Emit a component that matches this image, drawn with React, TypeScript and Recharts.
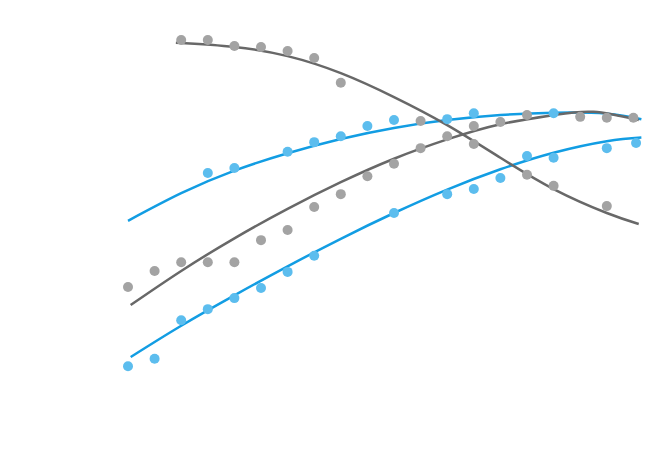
import { ComposedChart, Scatter, Line, XAxis, YAxis } from "recharts";

const GREY_DOT = "#a3a3a3";
const BLUE_DOT = "#5cbdee";
const GREY_LINE = "#686868";
const BLUE_LINE = "#129de3";

// scatter points: x is the slot index, y the value
const fallingX = [2, 3, 4, 5, 6, 7, 8, 11, 13, 15, 16, 18];
const fallingY = [92.6, 92.6, 91.3, 91.1, 90.2, 88.7, 83.3, 75.0, 70.0, 63.3, 60.9, 56.5];

const risingX = [0, 1, 2, 3, 4, 5, 6, 7, 8, 9, 10, 11, 12, 13, 14, 15, 17, 18, 19];
const risingY = [38.9, 42.4, 44.3, 44.3, 44.3, 49.1, 51.3, 56.3, 59.1, 63.0, 65.7, 69.1, 71.7, 73.9, 74.8, 76.3, 75.9, 75.7, 75.7];

const upperX = [3, 4, 6, 7, 8, 9, 10, 12, 13, 16];
const upperY = [63.7, 64.8, 68.3, 70.4, 71.7, 73.9, 75.2, 75.4, 76.7, 76.7];

const lowerX = [0, 1, 2, 3, 4, 5, 6, 7, 10, 12, 13, 14, 15, 16, 18, 19.1];
const lowerY = [21.7, 23.3, 31.7, 34.1, 36.5, 38.7, 42.2, 45.7, 55.0, 59.1, 60.2, 62.6, 67.4, 67.0, 69.1, 70.2];

// trend lines
const fallingTrendX = [1.8, 4, 6, 8, 10, 12, 14, 16, 18, 19.2];
const fallingTrendY = [92.0, 91.1, 89.1, 85.4, 80.2, 74.1, 67.0, 60.2, 55.0, 52.6];

const upperTrendX = [0, 2, 4, 6, 8, 10, 12, 14, 16, 18, 19.3];
const upperTrendY = [53.3, 59.3, 64.2, 68.0, 71.1, 73.5, 75.2, 76.3, 76.8, 76.6, 75.4];

const risingTrendX = [0.1, 2, 4, 6, 8, 10, 12, 14, 16, 17.5, 19.2];
const risingTrendY = [35.0, 42.4, 49.5, 55.9, 61.7, 66.8, 71.0, 74.3, 76.3, 77.0, 75.2];

const lowerTrendX = [0.1, 2, 4, 6, 8, 10, 12, 14, 16, 18, 19.3];
const lowerTrendY = [23.7, 30.5, 37.1, 43.4, 49.4, 55.0, 60.1, 64.5, 68.1, 70.6, 71.4];

const zip = (xs: number[], ys: number[]) => xs.map((x, i) => ({ x, y: ys[i] }));

const dot = (color: string) => (props: any) =>
  <circle cx={props.cx} cy={props.cy} r={5} fill={color} />;

export default function App() {
  return (
    <div style={{ position: "absolute", left: 0, top: 0, width: 660, height: 466, background: "#fff" }}>
      <ComposedChart width={660} height={466} margin={{ top: 6, right: 0, bottom: 0, left: 128 }}>
        <XAxis type="number" dataKey="x" domain={[0, 20]} hide />
        <YAxis type="number" dataKey="y" domain={[0, 100]} hide />
        <Scatter data={zip(fallingX, fallingY)} shape={dot(GREY_DOT)} isAnimationActive={false} />
        <Scatter data={zip(risingX, risingY)} shape={dot(GREY_DOT)} isAnimationActive={false} />
        <Scatter data={zip(upperX, upperY)} shape={dot(BLUE_DOT)} isAnimationActive={false} />
        <Scatter data={zip(lowerX, lowerY)} shape={dot(BLUE_DOT)} isAnimationActive={false} />
        <Line data={zip(upperTrendX, upperTrendY)} dataKey="y" type="natural" stroke={BLUE_LINE} strokeWidth={2.5} dot={false} activeDot={false} isAnimationActive={false} />
        <Line data={zip(lowerTrendX, lowerTrendY)} dataKey="y" type="natural" stroke={BLUE_LINE} strokeWidth={2.5} dot={false} activeDot={false} isAnimationActive={false} />
        <Line data={zip(fallingTrendX, fallingTrendY)} dataKey="y" type="natural" stroke={GREY_LINE} strokeWidth={2.5} dot={false} activeDot={false} isAnimationActive={false} />
        <Line data={zip(risingTrendX, risingTrendY)} dataKey="y" type="natural" stroke={GREY_LINE} strokeWidth={2.5} dot={false} activeDot={false} isAnimationActive={false} />
      </ComposedChart>
    </div>
  );
}
